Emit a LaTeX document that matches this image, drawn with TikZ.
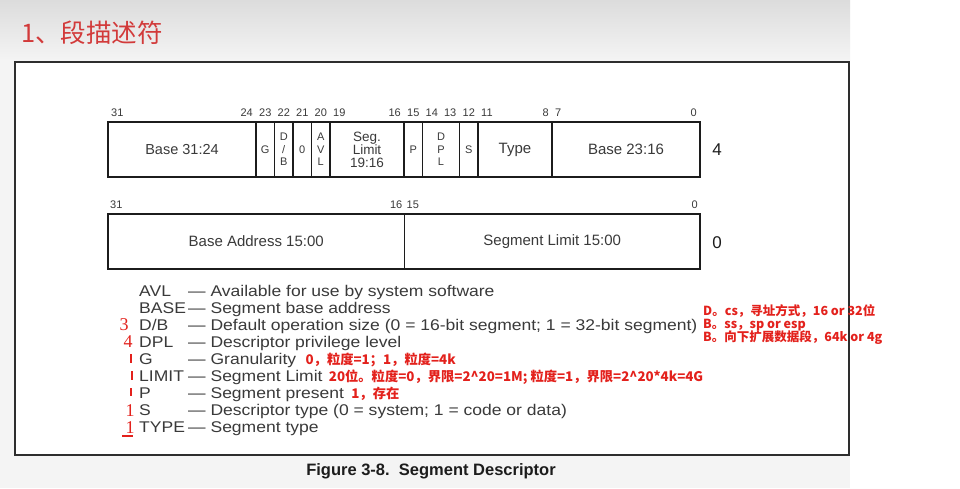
\documentclass[tikz,border=0pt]{standalone}
\usepackage{fontspec}
\setmainfont{Liberation Sans}
\newfontfamily\cjk{Noto Sans CJK SC}
\newfontfamily\handfont{Liberation Serif}
\newfontfamily\widesans[FakeStretch=1.13]{Liberation Sans}
\usetikzlibrary{positioning}
\definecolor{segred}{HTML}{E3211C}
\definecolor{segtitle}{HTML}{D23A3A}
\definecolor{seggray}{HTML}{3A3A3A}
\definecolor{segline}{HTML}{1C1C1C}
\definecolor{segframe}{HTML}{2E2E2E}
\definecolor{segbg}{HTML}{F4F4F4}
\definecolor{segtop}{HTML}{DCDCDC}
\tikzset{
  field/.style={draw=segline,line width=1.3pt,minimum height=55,inner sep=0pt,outer sep=0pt,align=center,text=seggray},
  bitno/.style={text=seggray,inner sep=0pt,font=\fontsize{11}{11}\selectfont},
  offset/.style={text=segline,inner sep=0pt,font=\fontsize{17}{17}\selectfont},
  legkey/.style={anchor=base west,text=seggray,inner sep=0pt,font=\widesans\fontsize{15.5}{17}\selectfont},
  note/.style={anchor=base west,text=segred,inner sep=0pt,font=\cjk\bfseries\fontsize{12.5}{13}\selectfont},
  inote/.style={note,font=\cjk\bfseries\fontsize{13.3}{14}\selectfont},
  handmark/.style={text=segred,inner sep=0pt,font=\handfont\fontsize{18}{18}\selectfont},
  handline/.style={draw=segred,line width=1.3pt},
  heading/.style={text=segtitle,inner sep=0pt,font=\cjk\fontsize{25.5}{26}\selectfont},
  caption/.style={text=segline,inner sep=0pt,font=\bfseries\fontsize{16.5}{17}\selectfont},
}

\begin{document}
\begin{tikzpicture}[x=1pt,y=-1pt]
\useasboundingbox (0,0) rectangle (960,488);
% page and frame
\fill[white] (0,0) rectangle (960,488);
\fill[segbg] (0,0) rectangle (850,488);
\shade[top color=segtop,bottom color=segbg] (0,0) rectangle (850,60);
\filldraw[fill=white,draw=segframe,line width=2.2pt] (15,62) rectangle (849,455);
\node[heading,anchor=west] (ttl) at (21,33) {1、段描述符};
% upper word (offset 4), 18.5 per bit
\foreach \hi/\lo/\nm/\fs/\txt in {31/24/bhi/14.5/{Base 31:24}, 23/23/g/11/G, 22/22/db/11/{D\\/\\B}, 21/21/zero/11/0, 20/20/avl/11/{A\\V\\L}, 19/16/lhi/13.5/{Seg.\\Limit\\19:16}, 15/15/p/11/P, 14/13/dpl/11/{D\\P\\L}, 12/12/s/11/S, 11/8/type/15/Type, 7/0/bmid/15/{Base 23:16}} {
  \pgfmathsetmacro\xl{108+(31-\hi)*18.5}
  \pgfmathsetmacro\w{(\hi-\lo+1)*18.5}
  \node[field,minimum width=\w pt,anchor=north west,font=\fontsize{\fs}{12.5}\selectfont] (f\nm) at (\xl,122) {\txt};
  \ifnum\hi=\lo
    \node[bitno] (n\nm) at (\xl+\w/2,113) {\hi};
  \else
    \node[bitno,anchor=west] (nh\nm) at (\xl+3,113) {\hi};
    \node[bitno,anchor=east] (nl\nm) at (\xl+\w-3,113) {\lo};
  \fi
}
\node[offset] (off4) at (717,150) {4};
% lower word (offset 0)
\node[field,minimum width=296.5,anchor=north west,font=\fontsize{15}{15}\selectfont] (blo) at (108,214) {Base Address 15:00};
\node[field,minimum width=295.5,right=0pt of blo,font=\fontsize{15}{15}\selectfont] (llo) {Segment Limit 15:00};
\foreach \x/\a/\t in {110/west/31, 402.5/east/16, 406.5/west/15, 698/east/0}
  \node[bitno,anchor=\a] (m\t) at (\x,205) {\t};
\node[offset] (off0) at (717,243) {0};
% legend
\foreach \i/\k/\t in {1/AVL/{Available for use by system software}, 2/BASE/{Segment base address}, 3/{D/B}/{Default operation size (0 = 16-bit segment; 1 = 32-bit segment)}, 4/DPL/{Descriptor privilege level}, 5/G/{Granularity}, 6/LIMIT/{Segment Limit}, 7/P/{Segment present}, 8/S/{Descriptor type (0 = system; 1 = code or data)}, 9/TYPE/{Segment type}} {
  \node[legkey] (k\i) at (139,279.5+17*\i) {\k};
  \node[legkey] (d\i) at (188,279.5+17*\i) {— \t};
}
% red notes
\node[inote] (nG) at ([xshift=9pt]d5.base east) {0，粒度=1；1，粒度=4k};
\node[inote] (nL) at ([xshift=6pt]d6.base east) {20位。粒度=0，界限=2\textasciicircum20=1M; 粒度=1，界限=2\textasciicircum20*4k=4G};
\node[inote] (nP) at ([xshift=7pt]d7.base east) {1，存在};
\node[note] (rD) at (703,315.5) {D。cs，寻址方式，16 or 32位};
\node[note] (rB1) at (703,328.5) {B。ss，sp or esp};
\node[note] (rB2) at (703,341.5) {B。向下扩展数据段，64k or 4g};
% hand marks
\node[handmark] (h3) at (124,325) {3};
\node[handmark] (h4) at (128,342) {4};
\draw[handline] (131,354) -- (131,363);
\draw[handline] (132,371) -- (132,380);
\draw[handline] (131,388) -- (131,396);
\node[handmark] (h1s) at (130,411) {1};
\node[handmark] (h1t) at (130,428) {1};
\draw[handline] (122,436) -- (133,436);
\node[caption] (cap) at (431,471) {Figure 3-8.\ \ Segment Descriptor};
\end{tikzpicture}
\end{document}
